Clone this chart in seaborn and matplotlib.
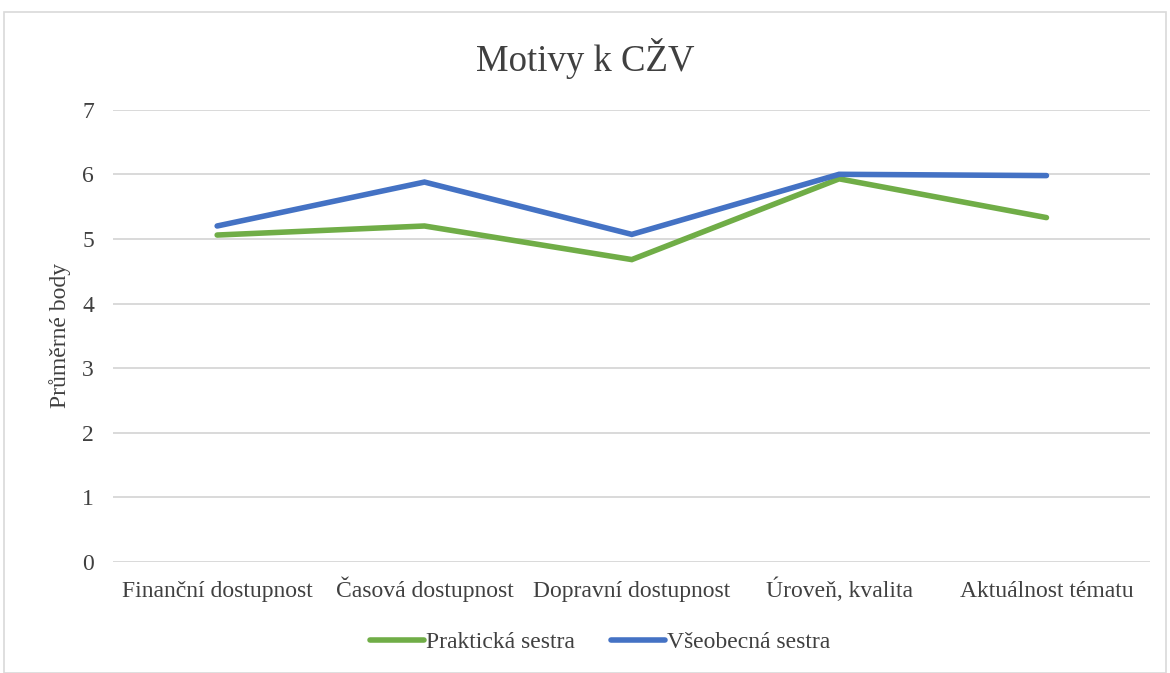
import matplotlib
matplotlib.use("Agg")
import matplotlib.pyplot as plt
import pandas as pd
import seaborn as sns
from matplotlib.patches import Rectangle

categories = [
    "Finanční dostupnost",
    "Časová dostupnost",
    "Dopravní dostupnost",
    "Úroveň, kvalita",
    "Aktuálnost tématu",
]
prakticka = [5.06, 5.20, 4.68, 5.93, 5.33]
vseobecna = [5.20, 5.88, 5.07, 6.00, 5.98]
series_names = ["Praktická sestra", "Všeobecná sestra"]
colors = ["#70AD47", "#4472C4"]

rows = []
for name, vals in zip(series_names, [prakticka, vseobecna]):
    for cat, v in zip(categories, vals):
        rows.append({"kategorie": cat, "body": v, "skupina": name})
df = pd.DataFrame(rows)

sns.set_style("white")
plt.rcParams["font.family"] = ["Liberation Serif", "DejaVu Serif"]
plt.rcParams["text.color"] = "#404040"

fig = plt.figure(figsize=(11.7, 6.73), dpi=100)
ax = fig.add_axes([0.097, 0.165, 0.886, 0.672])

sns.lineplot(
    data=df,
    x="kategorie",
    y="body",
    hue="skupina",
    palette=colors,
    sort=False,
    linewidth=4,
    ax=ax,
    legend=False,
)
for line in ax.get_lines():
    line.set_solid_capstyle("round")
    line.set_solid_joinstyle("miter")

ax.set_xlim(-0.5, len(categories) - 0.5)
ax.set_ylim(0, 7)
ax.set_yticks(range(0, 8))
ax.yaxis.grid(True, color="#D9D9D9", linewidth=1.4)
ax.set_axisbelow(True)
for s in ax.spines.values():
    s.set_visible(False)
ax.tick_params(axis="both", length=0, labelsize=17, colors="#404040")
ax.tick_params(axis="y", pad=14)
ax.tick_params(axis="x", pad=25)
for lbl in ax.get_xticklabels():
    lbl.set_verticalalignment("baseline")
ax.set_xlabel("")
ax.set_ylabel("Průměrné body", fontsize=17, color="#404040", labelpad=8)

fig.suptitle("Motivy k CŽV", fontsize=26.5, color="#404040", y=0.943)

handles = [plt.Line2D([], [], color=c, linewidth=4) for c in colors]
fig.legend(
    handles,
    series_names,
    loc="center",
    bbox_to_anchor=(0.513, 0.046),
    ncol=2,
    frameon=False,
    fontsize=17,
    handlelength=2.3,
    handletextpad=0.1,
    columnspacing=1.5,
)

fig.patches.append(
    Rectangle((0.003, 0.0), 0.994, 0.982, transform=fig.transFigure,
              fill=False, edgecolor="#D9D9D9", linewidth=1.2)
)

fig.savefig("out.png", dpi=100)
